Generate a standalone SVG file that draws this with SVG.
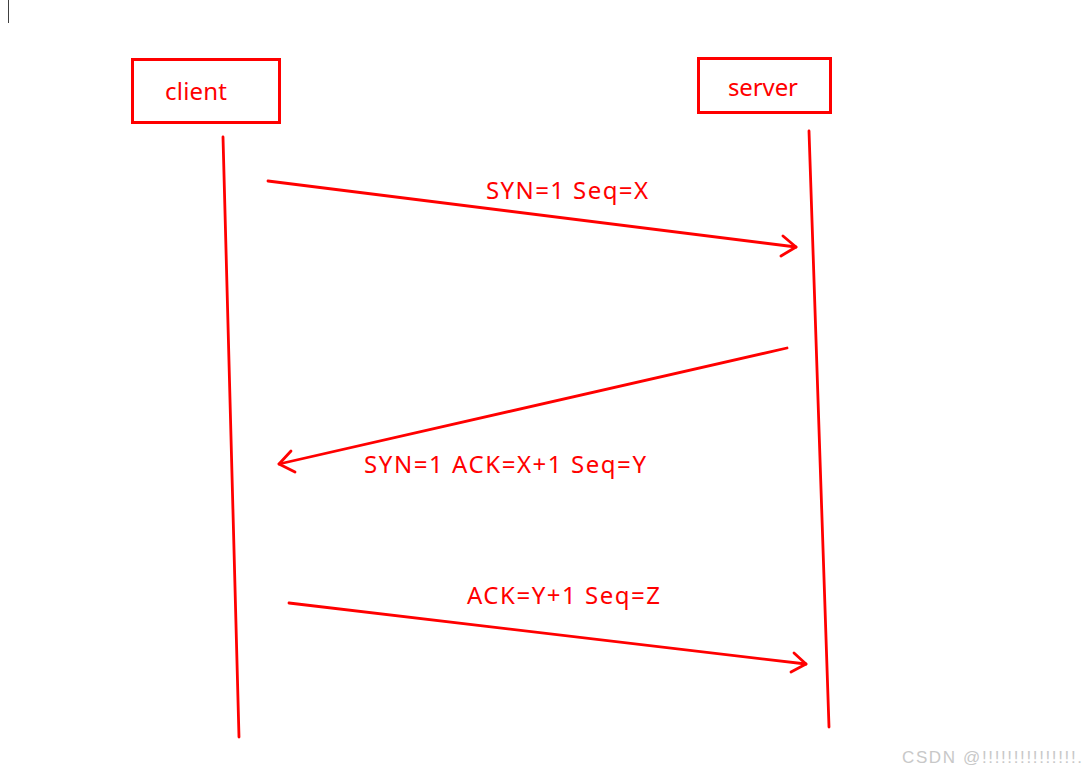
<svg xmlns="http://www.w3.org/2000/svg" width="1084" height="773" viewBox="0 0 1084 773">
<style>
.box{fill:none;stroke:#ff0000;stroke-width:3}
.ln{fill:none;stroke:#ff0000;stroke-width:2.8;stroke-linecap:round;stroke-linejoin:round}
.t{font-family:"Noto Sans","Open Sans",sans-serif;font-size:24px;fill:#ff0000}
.wm{font-family:"Liberation Sans",Arial,sans-serif;font-size:17px;fill:#c8c8c8}
</style>
<rect width="1084" height="773" fill="#ffffff"/>
<line x1="8.5" y1="0" x2="8.5" y2="23" stroke="#404040" stroke-width="1"/>
<g id="client">
<rect class="box" x="132.5" y="59.5" width="147" height="63"/>
<text class="t" x="165" y="100" textLength="62" lengthAdjust="spacing">client</text>
</g>
<g id="server">
<rect class="box" x="698.5" y="58.5" width="132" height="54"/>
<text class="t" x="728" y="96" textLength="70" lengthAdjust="spacing">server</text>
</g>
<g id="connectors">
<line class="ln" x1="223" y1="137" x2="239" y2="737"/>
<line class="ln" x1="809" y1="131" x2="829" y2="727"/>
<polyline class="ln" points="268,181 796,247"/>
<polyline class="ln" points="783,236 796,247 781,256"/>
<polyline class="ln" points="787,348 279,464"/>
<polyline class="ln" points="291,451 279,464 295,472"/>
<polyline class="ln" points="289,603 806,664"/>
<polyline class="ln" points="794,653 806,664 791,672"/>
</g>
<g id="labels">
<text class="t" x="486" y="199" textLength="162" lengthAdjust="spacing">SYN=1 Seq=X</text>
<text class="t" x="364" y="473" textLength="282" lengthAdjust="spacing">SYN=1 ACK=X+1 Seq=Y</text>
<text class="t" x="467" y="604" textLength="193" lengthAdjust="spacing">ACK=Y+1 Seq=Z</text>
</g>
<text class="wm" x="902" y="763" textLength="180" lengthAdjust="spacing">CSDN @!!!!!!!!!!!!!!!.</text>
</svg>
